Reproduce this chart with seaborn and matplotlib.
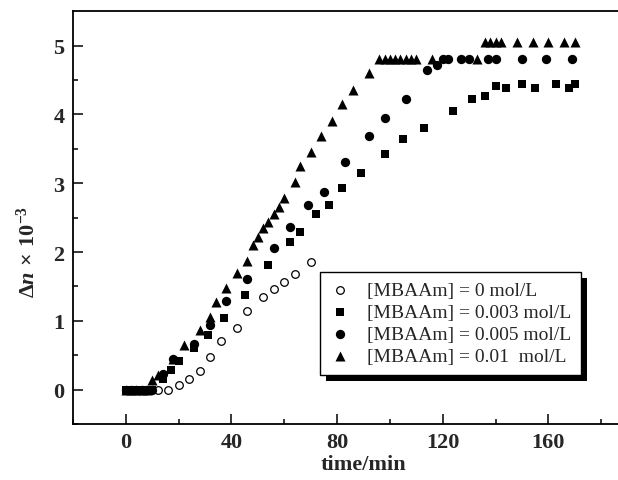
#!/usr/bin/env python3
# plot: birefringence change vs. time for several MBAAm concentrations

import matplotlib
matplotlib.use('Agg')
import matplotlib.pyplot as plt
from matplotlib.patches import Rectangle
from matplotlib.ticker import FixedLocator
import seaborn as sns

# Data =========================================================================

labels = [
    '[MBAAm] = 0 mol/L',
    '[MBAAm] = 0.003 mol/L',
    '[MBAAm] = 0.005 mol/L',
    '[MBAAm] = 0.01  mol/L',
]

x_ticks = [0, 40, 80, 120, 160]
x_minor = [-20, 20, 60, 100, 140, 180]
y_ticks = [0, 1, 2, 3, 4, 5]
y_minor = [-0.5, 0.5, 1.5, 2.5, 3.5, 4.5]

t_0 = [12, 16, 20, 24, 28, 32, 36, 42, 46, 52, 56, 60, 64, 70]
dn_0 = [0, 0, 0.06, 0.15, 0.27, 0.47, 0.70, 0.90, 1.14, 1.34, 1.46, 1.57,
        1.68, 1.85]

t_003 = [0, 2, 4, 6, 8, 10, 14, 17, 20, 26, 31, 37, 45, 54, 62, 66, 72, 77,
         82, 89, 98, 105, 113, 124, 131, 136, 140, 144, 150, 155, 163, 168,
         170]
dn_003 = [0, 0, 0, 0, 0, 0, 0.15, 0.28, 0.42, 0.60, 0.79, 1.04, 1.37, 1.81,
          2.14, 2.29, 2.55, 2.68, 2.93, 3.15, 3.43, 3.65, 3.81, 4.05, 4.22,
          4.27, 4.41, 4.39, 4.45, 4.39, 4.45, 4.39, 4.45]

t_005 = [0, 2, 4, 6, 8, 10, 14, 18, 26, 32, 38, 46, 56, 62, 69, 75, 83, 92,
         98, 106, 114, 118, 120, 122, 127, 130, 137, 140, 150, 159, 169]
dn_005 = [0, 0, 0, 0, 0, 0, 0.22, 0.45, 0.66, 0.94, 1.29, 1.61, 2.06, 2.37,
          2.68, 2.87, 3.31, 3.69, 3.95, 4.23, 4.65, 4.72, 4.80, 4.80, 4.80,
          4.80, 4.80, 4.80, 4.80, 4.80, 4.80]

t_01 = [0, 2, 4, 6, 8, 10, 12, 18, 22, 28, 32, 34, 38, 42, 46, 48, 50, 52,
        54, 56, 58, 60, 64, 66, 70, 74, 78, 82, 86, 92, 96, 98, 100, 102,
        104, 106, 108, 110, 116, 133, 136, 138, 140, 142, 148, 154, 160, 166,
        170]
dn_01 = [0, 0, 0, 0, 0, 0.14, 0.21, 0.45, 0.65, 0.87, 1.05, 1.28, 1.48,
         1.69, 1.87, 2.10, 2.22, 2.35, 2.44, 2.56, 2.66, 2.78, 3.02, 3.25,
         3.45, 3.68, 3.91, 4.15, 4.36, 4.61, 4.81, 4.81, 4.81, 4.81, 4.81,
         4.81, 4.81, 4.81, 4.81, 4.81, 5.05, 5.05, 5.05, 5.05, 5.05, 5.05,
         5.05, 5.05, 5.05]


# Plot =========================================================================

def main():
    sns.set_theme(style='ticks')
    plt.rcParams['font.family'] = ['Liberation Serif', 'DejaVu Serif']
    plt.rcParams['mathtext.fontset'] = 'custom'
    plt.rcParams['mathtext.rm'] = 'Liberation Serif:bold'
    plt.rcParams['mathtext.it'] = 'Liberation Serif:italic:bold'
    plt.rcParams['mathtext.bf'] = 'Liberation Serif:bold'

    fig = plt.figure(figsize=(6.18, 4.81), dpi=100)
    # axes run past the right edge, as in the cropped original
    ax = fig.add_axes([73 / 618, 56 / 481, 581 / 618, 412.7 / 481])

    sns.scatterplot(x=t_0, y=dn_0, marker='o', s=30, color='white',
                    edgecolor='black', linewidth=0.9, label=labels[0], ax=ax)
    sns.scatterplot(x=t_003, y=dn_003, marker='s', s=34, color='black',
                    edgecolor='black', linewidth=0, label=labels[1], ax=ax)
    sns.scatterplot(x=t_005, y=dn_005, marker='o', s=45, color='black',
                    edgecolor='black', linewidth=0, label=labels[2], ax=ax)
    sns.scatterplot(x=t_01, y=dn_01, marker='^', s=52, color='black',
                    edgecolor='black', linewidth=0, label=labels[3], ax=ax)

    ax.set_xlim(-20, 200)
    ax.set_ylim(-0.5, 5.5)
    ax.xaxis.set_major_locator(FixedLocator(x_ticks))
    ax.xaxis.set_minor_locator(FixedLocator(x_minor))
    ax.yaxis.set_major_locator(FixedLocator(y_ticks))
    ax.yaxis.set_minor_locator(FixedLocator(y_minor))
    ax.tick_params(which='both', direction='in', top=False, right=False,
                   width=1.1, color='black')
    ax.tick_params(which='major', length=7, pad=6, labelsize=16)
    ax.tick_params(which='minor', length=3.5)
    for lab in ax.get_xticklabels() + ax.get_yticklabels():
        lab.set_fontweight('bold')
    for side in ('left', 'bottom', 'top', 'right'):
        ax.spines[side].set_linewidth(1.3)
        ax.spines[side].set_color('black')

    ax.set_xlabel('time/min', fontsize=16, fontweight='bold', labelpad=1)
    ax.set_ylabel(r'$\Delta\mathit{n}\,\times\,10^{-3}$', fontsize=16)
    ax.yaxis.set_label_coords(-0.058, 0.42)

    leg = ax.legend(loc='upper left', bbox_to_anchor=(0.4253, 0.3683),
                    borderaxespad=0, fancybox=False, edgecolor='black',
                    framealpha=1, fontsize=14, handlelength=1.0,
                    handletextpad=0.9, labelspacing=0.22, borderpad=0.5,
                    scatterpoints=1)
    leg.get_frame().set_linewidth(1.0)
    leg.set_zorder(5)

    # solid black drop shadow behind the legend box
    fig.canvas.draw()
    bb = leg.get_frame().get_window_extent()
    inv = ax.transAxes.inverted()
    (x0, y0), (x1, y1) = inv.transform([(bb.x0 + 6, bb.y0 - 6),
                                        (bb.x1 + 6, bb.y1 - 6)])
    ax.add_patch(Rectangle((x0, y0), x1 - x0, y1 - y0,
                           transform=ax.transAxes, facecolor='black',
                           edgecolor='none', zorder=4.5, clip_on=False))

    fig.savefig('out.png', dpi=100)


if __name__ == '__main__':
    main()
